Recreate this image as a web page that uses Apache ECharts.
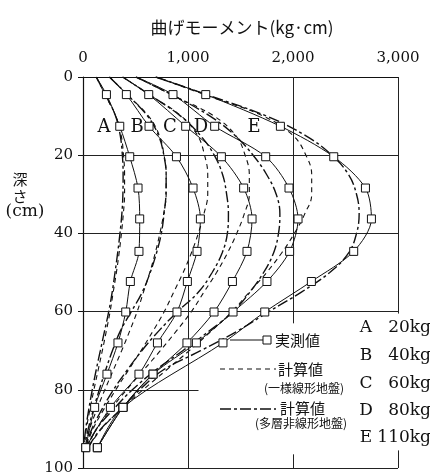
<!DOCTYPE html>
<html><head><meta charset="utf-8">
<script src="https://cdn.jsdelivr.net/npm/echarts@6/dist/echarts.min.js"></script>
<style>html,body{margin:0;padding:0;background:#fff}#c{width:430px;height:476px}</style>
</head><body><div id="c"></div>
<script>
// ---- data ----
const loads = ['A', 'B', 'C', 'D', 'E'];
const loadWeights = ['20kg', '40kg', '60kg', '80kg', '110kg'];
const xTickLabels = ['0', '1,000', '2,000', '3,000'];
const yTickLabels = ['0', '20', '40', '60', '80', '100'];
const surfaceMoment = [126, 252, 378, 504, 693];

// measured points (depth cm)
const depthMeasured = [4.5, 12.6, 20.4, 28.4, 36.3, 44.6, 52.3, 60.1, 68, 76, 84.5, 94.8];
const measuredA = [223, 350, 445, 524, 540, 533, 451, 407, 333, 228, 111, 26];
const measuredB = [413, 629, 890, 1048, 1118, 1086, 994, 895, 709, 533, 261, 26];
const measuredC = [626, 978, 1318, 1530, 1610, 1562, 1423, 1248, 990, 667, 381, 137];
const measuredD = [857, 1254, 1740, 1962, 2048, 1968, 1752, 1429, 1080, 667, 381, 137];
const measuredE = [1169, 1880, 2388, 2690, 2747, 2578, 2175, 1731, 1333, null, 381, 137];

// calculated curves (depth cm)
const depthCalc = [0, 5, 10, 15, 20, 25, 30, 35, 40, 45, 50, 55, 60, 65, 70, 75, 80, 85, 90, 95];
// uniform linear ground (dashed)
const linearA = [126, 220, 312, 364, 386, 396, 396, 384, 366, 344, 318, 288, 258, 222, 184, 144, 104, 66, 32, 8];
const linearB = [252, 440, 624, 728, 772, 792, 792, 768, 732, 688, 636, 576, 516, 444, 368, 288, 208, 132, 64, 16];
const linearC = [378, 660, 936, 1092, 1158, 1188, 1188, 1152, 1098, 1032, 954, 864, 774, 666, 552, 432, 312, 198, 96, 24];
const linearD = [504, 880, 1248, 1456, 1544, 1584, 1584, 1536, 1464, 1376, 1272, 1152, 1032, 888, 736, 576, 416, 264, 128, 32];
const linearE = [693, 1210, 1716, 2002, 2123, 2178, 2178, 2112, 2013, 1892, 1749, 1584, 1419, 1221, 1012, 792, 572, 363, 176, 44];
// multi-layer nonlinear ground (dash-dot)
const nonlinearA = [126, 222, 310, 355, 375, 382, 380, 370, 352, 330, 305, 278, 245, 205, 165, 125, 88, 55, 26, 6];
const nonlinearB = [252, 440, 615, 720, 770, 792, 790, 772, 746, 700, 640, 565, 460, 355, 280, 215, 155, 100, 50, 12];
const nonlinearC = [378, 660, 930, 1120, 1250, 1330, 1368, 1385, 1375, 1325, 1230, 1100, 900, 720, 560, 420, 290, 180, 85, 20];
const nonlinearD = [504, 880, 1210, 1450, 1620, 1750, 1840, 1875, 1862, 1815, 1720, 1590, 1430, 1200, 950, 690, 470, 290, 130, 30];
const nonlinearE = [693, 1230, 1750, 2120, 2370, 2530, 2605, 2630, 2605, 2530, 2350, 2080, 1770, 1470, 1120, 760, 540, 360, 170, 40];

// ---- chart ----
const measured = [measuredA, measuredB, measuredC, measuredD, measuredE];
const linear = [linearA, linearB, linearC, linearD, linearE];
const nonlinear = [nonlinearA, nonlinearB, nonlinearC, nonlinearD, nonlinearE];

const SERIF = '"DejaVu Serif", "Liberation Serif", serif';
const CJK = '"Noto Sans CJK JP", sans-serif';
const INK = '#111';

const series = [];
loads.forEach((k, i) => {
  series.push({
    type: 'line', name: k + ' linear', smooth: 0.4, symbol: 'none', z: 3,
    data: depthCalc.map((d, j) => [linear[i][j], d]),
    lineStyle: { color: INK, width: 1.1, type: [5, 4] }
  });
  series.push({
    type: 'line', name: k + ' nonlinear', smooth: 0.4, symbol: 'none', z: 3,
    data: depthCalc.map((d, j) => [nonlinear[i][j], d]),
    lineStyle: { color: INK, width: 1.4, type: [11, 3, 3, 3] }
  });
  const md = [{ value: [surfaceMoment[i], 0], symbol: 'none' }];
  depthMeasured.forEach((d, j) => { if (measured[i][j] != null) md.push([measured[i][j], d]); });
  series.push({
    type: 'line', name: k + ' measured', smooth: 0.3, z: 5,
    symbol: 'rect', symbolSize: 8, showAllSymbol: true,
    data: md,
    itemStyle: { color: '#fff', borderColor: INK, borderWidth: 1 },
    lineStyle: { color: INK, width: 1 }
  });
});

// frame / grid segments
const seg = (a, b) => [{ coord: a }, { coord: b }];
series.push({
  type: 'line', data: [], silent: true, z: 1,
  markLine: {
    silent: true, symbol: ['none', 'none'], label: { show: false },
    lineStyle: { color: '#222', width: 1, type: 'solid' },
    data: [
      seg([1000, 0], [1000, 100]),
      seg([2000, 0], [2000, 63]), seg([2000, 96.5], [2000, 100]),
      seg([3000, 0], [3000, 60.5]), seg([3000, 95.5], [3000, 100]),
      seg([0, 20], [3000, 20]), seg([0, 40], [3000, 40]), seg([0, 60], [3000, 60]),
      seg([0, 80], [1100, 80]),
      seg([0, 100], [3000, 100])
    ]
  }
});

const chart = echarts.init(document.getElementById('c'), null, { renderer: 'canvas' });

const labelPos = [104, 137, 170, 201, 254];
const graphics = [];
// x axis title
graphics.push({ type: 'text', x: 242, y: 28, style: { text: '曲げモーメント(kg·cm)', font: '17px ' + CJK, fill: INK, textAlign: 'center', textVerticalAlign: 'middle' } });
loads.forEach((k, i) => {
  graphics.push({ type: 'text', x: labelPos[i], y: 127, style: { text: k, font: '18px ' + SERIF, fill: INK, textAlign: 'center', textVerticalAlign: 'middle' } });
});
// y axis name
graphics.push({ type: 'text', x: 20, y: 179, style: { text: '深', font: '15px ' + CJK, fill: INK, textAlign: 'center', textVerticalAlign: 'middle' } });
graphics.push({ type: 'text', x: 20, y: 196, style: { text: 'さ', font: '15px ' + CJK, fill: INK, textAlign: 'center', textVerticalAlign: 'middle' } });
graphics.push({ type: 'text', x: 25, y: 212, style: { text: '(cm)', font: '17px ' + SERIF, fill: INK, textAlign: 'center', textVerticalAlign: 'middle' } });

// legend: measured
graphics.push({ type: 'line', shape: { x1: 230, y1: 340, x2: 263, y2: 340 }, style: { stroke: INK, lineWidth: 1 } });
graphics.push({ type: 'rect', shape: { x: 263, y: 336, width: 8, height: 8 }, style: { fill: '#fff', stroke: INK, lineWidth: 1 } });
graphics.push({ type: 'text', x: 275, y: 340, style: { text: '実測値', font: '15px ' + CJK, fill: INK, textVerticalAlign: 'middle' } });
// legend: linear
graphics.push({ type: 'line', shape: { x1: 220, y1: 369, x2: 276, y2: 369 }, style: { stroke: INK, lineWidth: 1.1, lineDash: [5, 4] } });
graphics.push({ type: 'text', x: 278, y: 369, style: { text: '計算値', font: '15px ' + CJK, fill: INK, textVerticalAlign: 'middle' } });
graphics.push({ type: 'text', x: 304, y: 388, style: { text: '(一様線形地盤)', font: '12px ' + CJK, fill: INK, textAlign: 'center', textVerticalAlign: 'middle' } });
// legend: nonlinear
graphics.push({ type: 'line', shape: { x1: 220, y1: 409, x2: 276, y2: 409 }, style: { stroke: INK, lineWidth: 1.4, lineDash: [11, 3, 3, 3] } });
graphics.push({ type: 'text', x: 280, y: 408, style: { text: '計算値', font: '15px ' + CJK, fill: INK, textVerticalAlign: 'middle' } });
graphics.push({ type: 'text', x: 301, y: 423, style: { text: '(多層非線形地盤)', font: '12px ' + CJK, fill: INK, textAlign: 'center', textVerticalAlign: 'middle' } });
// load legend
const loadY = [328, 356, 384, 411, 438];
loads.forEach((k, i) => {
  graphics.push({ type: 'text', x: 366, y: loadY[i], style: { text: k, font: '17px ' + SERIF, fill: INK, textAlign: 'center', textVerticalAlign: 'middle' } });
  graphics.push({ type: 'text', x: 431, y: loadY[i], style: { text: loadWeights[i], font: '17px ' + SERIF, fill: INK, textAlign: 'right', textVerticalAlign: 'middle' } });
});

chart.setOption({
  animation: false,
  backgroundColor: '#fff',
  grid: { left: 83, top: 77, width: 315, height: 391, containLabel: false },
  xAxis: {
    type: 'value', position: 'top', min: 0, max: 3000, interval: 1000,
    axisLine: { show: true, lineStyle: { color: INK, width: 1.2 } },
    axisTick: { show: false },
    splitLine: { show: false },
    axisLabel: { margin: 11, fontFamily: SERIF, fontSize: 15, color: INK,
      formatter: (v) => xTickLabels[Math.round(v / 1000)] }
  },
  yAxis: {
    type: 'value', inverse: true, min: 0, max: 100, interval: 20,
    axisLine: { show: true, lineStyle: { color: INK, width: 1.2 } },
    axisTick: { show: true, length: 5, lineStyle: { color: INK } },
    splitLine: { show: false },
    axisLabel: { margin: 10, fontFamily: SERIF, fontSize: 15, color: INK,
      formatter: (v) => yTickLabels[Math.round(v / 20)] }
  },
  series: series,
  graphic: graphics
});
</script>
</body></html>
